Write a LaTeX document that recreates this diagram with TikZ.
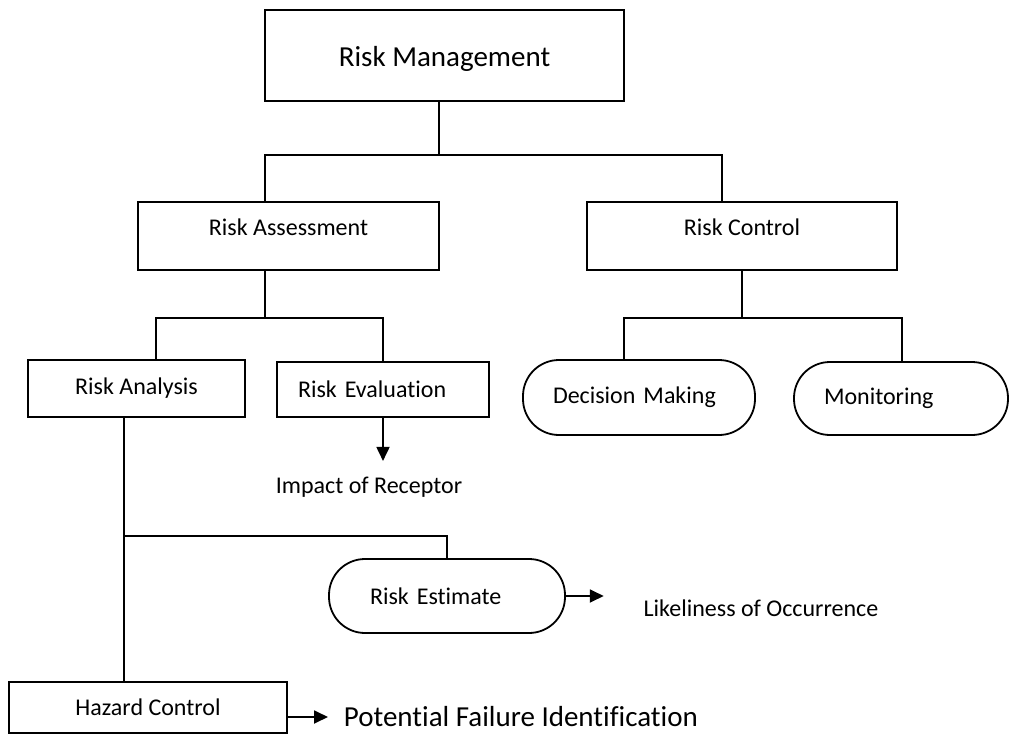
\documentclass[tikz,border=0pt]{standalone}
\usepackage{fontspec}
\setmainfont{Carlito}[Ligatures=NoCommon]
\usetikzlibrary{arrows.meta}
\begin{document}
\begin{tikzpicture}[x=1pt,y=-1pt,>={Triangle[length=14pt,width=13pt]},line width=1.8pt,
	every node/.style={font=\fontsize{24}{28}\selectfont,inner sep=0pt},
	box/.style={draw,minimum width=#1},
	pill/.style={draw,rounded corners=36pt,align=left}]
	\useasboundingbox (0,0) rectangle (1013,736);
	\node[box=359pt,text height=56pt,text depth=35pt,font=\fontsize{29}{34}\selectfont] (rm) at (444.5,55.5) {Risk Management};
	\node[box=301pt,text height=33pt,text depth=35pt] (ra) at (288.5,236) {Risk Assessment};
	\node[box=310pt,text height=33pt,text depth=35pt] (rc) at (742,236) {Risk Control};
	\node[box=217pt,minimum height=57pt] (ran) at (136.5,388.5) {Risk Analysis};
	\node[draw,minimum height=55pt,inner xsep=21pt,text width=170pt,align=left] (rev) at (383,389.5) {\mbox{Risk Evaluation}};
	\node[pill,minimum height=75pt,inner xsep=30pt,text width=172pt] (dm) at (639,397.5) {\mbox{Decision Making}};
	\node[pill,minimum height=73pt,inner xsep=30pt,text width=154pt] (mon) at (901,398.5) {Monitoring};
	\node[pill,minimum height=74pt,inner xsep=41pt,text width=154pt] (re) at (447,596) {\mbox{Risk Estimate}};
	\node[box=278pt,minimum height=51pt] (hc) at (148,707.5) {Hazard Control};
	\node (imp) at (369,487) {Impact of Receptor};
	\node (lik) at (761,608) {Likeliness of Occurrence};
	\node[anchor=west,font=\fontsize{29}{34}\selectfont] (pfi) at (343,717) {Potential Failure Identification};
	% junctions
	\coordinate (j1) at (439,155);
	\coordinate (j1l) at (265,155);
	\coordinate (j1r) at (722,155);
	\coordinate (j2) at (265,318);
	\coordinate (j2l) at (156,318);
	\coordinate (j2r) at (383,318);
	\coordinate (j3) at (742,318);
	\coordinate (j3l) at (624,318);
	\coordinate (j3r) at (902,318);
	\coordinate (j4) at (124,536);
	\draw (j1 |- rm.south) -- (j1);
	\draw (j1l |- ra.north) -- (j1l) -- (j1r) -- (j1r |- rc.north);
	\draw (j2 |- ra.south) -- (j2);
	\draw (j2l |- ran.north) -- (j2l) -- (j2r) -- (j2r |- rev.north);
	\draw (rc.south) -- (j3);
	\draw (j3l |- dm.north) -- (j3l) -- (j3r) -- (j3r |- mon.north);
	\draw (j4 |- ran.south) -- (j4 |- hc.north);
	\draw (j4) -| (re.north);
	\draw[->,shorten >=15pt] (rev.south) -- (rev.south |- imp.north);
	\draw[->,shorten >=39pt] (re.east) -- (re.east -| lik.west);
	\draw[->,shorten >=15pt] (hc.east |- pfi.west) -- (pfi.west);
\end{tikzpicture}
\end{document}
